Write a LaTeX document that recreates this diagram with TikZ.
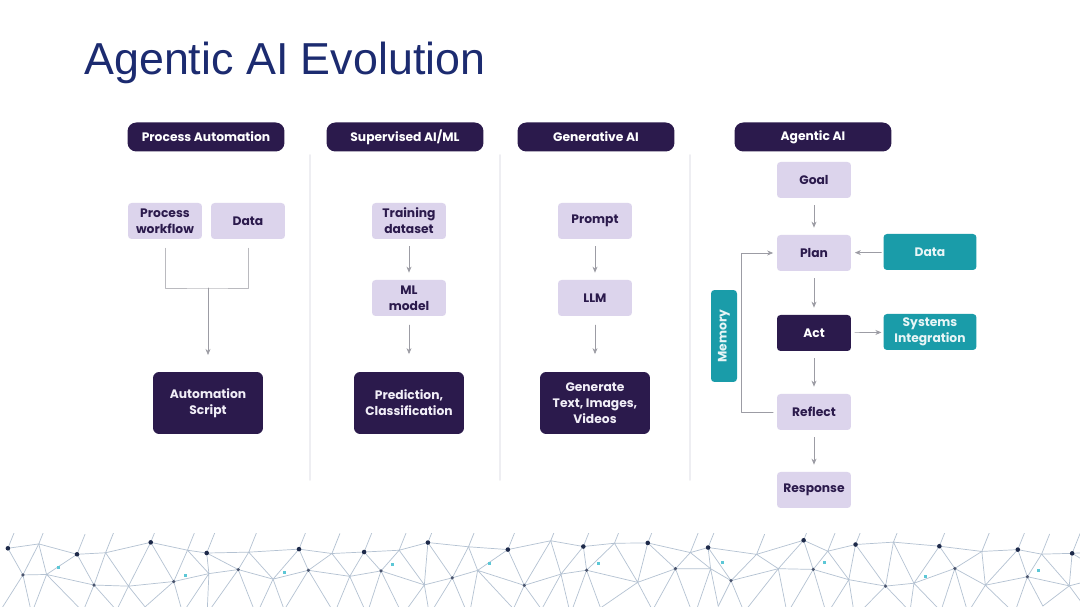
\documentclass[tikz,border=0pt]{standalone}
\usepackage{fontspec}
\setmainfont{Poppins}
\newfontfamily\titlefont{Liberation Sans}
\usetikzlibrary{arrows.meta,calc}
\definecolor{EvoInk}{HTML}{2B1A4C}
\definecolor{EvoLight}{HTML}{DCD4EC}
\definecolor{EvoTeal}{HTML}{1A9CA9}
\definecolor{EvoTitle}{HTML}{1C2B70}
\definecolor{EvoGuide}{HTML}{9C9CA4}
\definecolor{EvoRule}{HTML}{EEEEF2}
\definecolor{EvoMesh}{HTML}{B4C2D2}
\definecolor{EvoDot}{HTML}{1E2A4A}
\definecolor{EvoCyan}{HTML}{5CC7D6}
\tikzset{
    evo/diagram/.style={
        x=0.02cm, y=-0.02cm,
        font=\bfseries\fontsize{7}{9}\selectfont,
        line cap=round,
        line join=round,
        every node/.style={inner sep=1pt, align=center}
    },
    evo/header/.style={
        fill=EvoInk, text=white, rounded corners=5pt,
        minimum width=3.14cm, minimum height=0.58cm
    },
    evo/input/.style={
        fill=EvoLight, text=EvoInk, rounded corners=2pt,
        minimum width=1.48cm, minimum height=0.72cm
    },
    evo/active/.style={evo/input, fill=EvoInk, text=white},
    evo/output/.style={
        fill=EvoInk, text=EvoLight!40!white, rounded corners=3.5pt,
        minimum width=2.2cm, minimum height=1.24cm
    },
    evo/external/.style={
        fill=EvoTeal, text=white!90!EvoTeal, rounded corners=2pt,
        minimum width=1.86cm, minimum height=0.72cm
    },
    evo/flow/.style={
        draw=EvoGuide, line width=0.4pt,
        -{Stealth[length=1.2mm, width=1mm]}
    },
    evo/gap/.style={shorten <=4pt, shorten >=4pt},
    evo/wire/.style={draw=EvoGuide!70, line width=0.4pt},
    evo/divider/.style={draw=EvoRule, line width=0.9pt},
    evo/mesh/.style={draw=EvoMesh, line width=0.4pt}
}
\begin{document}
\begin{tikzpicture}[evo/diagram]
    \useasboundingbox (0,0) rectangle (1080,607);
    \fill[white] (0,0) rectangle (1080,607);

    % Network band along the bottom edge.
    \begin{scope}
        \clip (0,534) rectangle (1080,607);
        \pgfmathsetseed{11}
        \foreach \i in {0,...,31}{
            \pgfmathsetmacro{\tx}{\i*36+rand*12}
            \pgfmathsetmacro{\ty}{548+rand*8}
            \pgfmathsetmacro{\mx}{\i*36+18+rand*12}
            \pgfmathsetmacro{\my}{578+rand*10}
            \pgfmathsetmacro{\bx}{\i*36+rand*12}
            \pgfmathsetmacro{\by}{612+rand*6}
            \coordinate (t\i) at (\tx,\ty);
            \coordinate (m\i) at (\mx,\my);
            \coordinate (b\i) at (\bx,\by);
        }
        \foreach \i [evaluate=\i as \j using int(\i+1)] in {0,...,30}{
            \draw[evo/mesh] (t\i) -- (t\j) -- (m\i) -- (t\i)
                            (m\i) -- (m\j) (m\i) -- (b\i) (m\i) -- (b\j)
                            (t\i) -- ++(8,-20);
        }
        \foreach \i in {0,2,...,30}{
            \fill[EvoDot] (t\i) circle (1.3pt);
            \fill[EvoDot!80] (m\i) circle (1pt);
        }
        \foreach \i in {1,4,...,31}{
            \fill[EvoCyan] ($(m\i)+(10,-8)$) rectangle ++(3,3);
        }
    \end{scope}

    \node[anchor=base west, inner sep=0, text=EvoTitle,
          font=\titlefont\fontsize{25.5}{30}\selectfont]
        (title) at (84,75) {Agentic AI Evolution};

    % Column dividers.
    \foreach \x in {310,500,690}
        \draw[evo/divider] (\x,155) -- (\x,480);

    \node[evo/header] (hdrproc)  at (206,137) {Process Automation};
    \node[evo/header] (hdrsup)   at (405,137) {Supervised AI/ML};
    \node[evo/header] (hdrgen)   at (596,137) {Generative AI};
    \node[evo/header] (hdragent) at (813,137) {Agentic AI};

    % Process automation.
    \node[evo/input] (workflow) at (165,221) {Process\\workflow};
    \node[evo/input] (procdata) at (248,221) {Data};
    \node[evo/output] (script) at (208,403) {Automation\\Script};
    \coordinate (join) at (208,288);
    \draw[evo/wire] ($(workflow.south)+(0,9)$) |- (join)
                    -| ($(procdata.south)+(0,9)$);
    \draw[evo/flow, shorten >=9.5pt] (join) -- (script.north);

    % Supervised AI/ML.
    \node[evo/input] (training) at (409,221) {Training\\dataset};
    \node[evo/input] (mlmodel) at (409,298) {ML\\model};
    \node[evo/output] (predict) at (409,403) {Prediction,\\Classification};
    \draw[evo/flow, evo/gap] (training) -- (mlmodel);
    \draw[evo/flow, shorten <=5pt, shorten >=10pt] (mlmodel) -- (predict);

    % Generative AI.
    \node[evo/input] (prompt) at (595,221) {Prompt};
    \node[evo/input] (llm) at (595,298) {LLM};
    \node[evo/output] (generate) at (595,403) {Generate\\Text, Images,\\Videos};
    \draw[evo/flow, evo/gap] (prompt) -- (llm);
    \draw[evo/flow, shorten <=5pt, shorten >=10pt] (llm) -- (generate);

    % Agentic AI.
    \node[evo/input] (goal) at (814,180) {Goal};
    \node[evo/input] (plan) at (814,253) {Plan};
    \node[evo/active] (act) at (814,333) {Act};
    \node[evo/input] (reflect) at (814,412) {Reflect};
    \node[evo/input] (response) at (814,490) {Response};
    \node[evo/external] (agentdata) at (930,252) {Data};
    \node[evo/external] (systems) at (930,332) {Systems\\Integration};
    \node[evo/external, rotate=90, minimum width=1.84cm,
          minimum height=0.52cm] (memory) at (724,336) {Memory};
    \foreach \a/\b in {goal/plan, plan/act, act/reflect, reflect/response}
        \draw[evo/flow, evo/gap] (\a) -- (\b);
    \draw[evo/flow, shorten <=1pt, shorten >=2pt] (agentdata) -- (plan);
    \draw[evo/flow, shorten <=2pt, shorten >=1pt] (act) -- (systems);
    \draw[evo/flow, shorten <=2pt, shorten >=2pt]
        (reflect.west) -- ++(-35,0) |- (plan.west);
\end{tikzpicture}
\end{document}
